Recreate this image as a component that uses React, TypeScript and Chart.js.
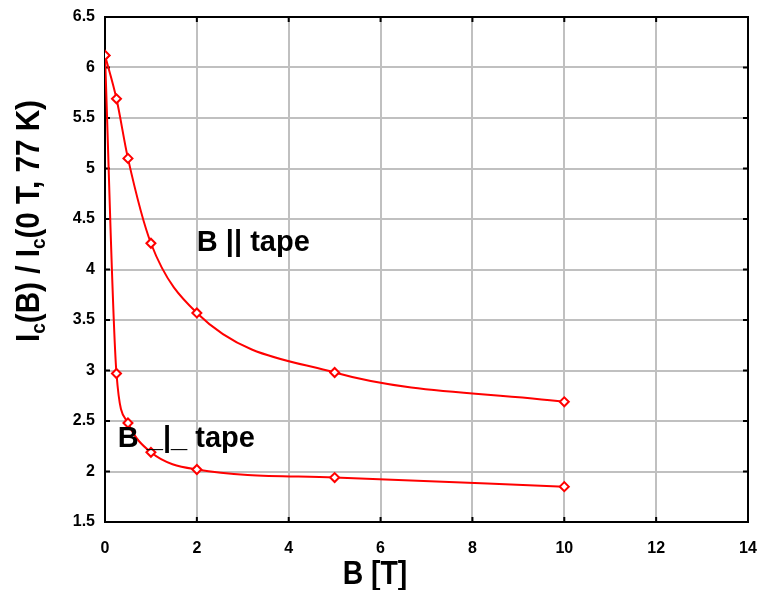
import React, { useEffect, useRef } from "react";
import { Chart, registerables } from "chart.js";

Chart.register(...registerables);

const bField = [0, 0.25, 0.5, 1, 2, 5, 10];
const parallelRatio = [6.12, 5.69, 5.1, 4.26, 3.57, 2.98, 2.69];
const perpRatio = [6.12, 2.97, 2.48, 2.19, 2.02, 1.94, 1.85];
const xTitle = "B [T]";
const parallelLabel = "B || tape";
const perpLabel = "B _|_ tape";

const FONT = "'Liberation Sans', Arial, sans-serif";

const framePlugin = {
  id: "frame",
  beforeDatasetsDraw(chart: any) {
    const { ctx, chartArea: a, scales } = chart;
    ctx.save();
    ctx.strokeStyle = "#000";
    ctx.lineWidth = 2;
    ctx.strokeRect(a.left, a.top, a.right - a.left, a.bottom - a.top);
    const tl = 5;
    ctx.beginPath();
    scales.x.ticks.forEach((t: any) => {
      const px = scales.x.getPixelForValue(t.value);
      ctx.moveTo(px, a.bottom);
      ctx.lineTo(px, a.bottom - tl);
      ctx.moveTo(px, a.top);
      ctx.lineTo(px, a.top + tl);
    });
    scales.y.ticks.forEach((t: any) => {
      const py = scales.y.getPixelForValue(t.value);
      ctx.moveTo(a.left, py);
      ctx.lineTo(a.left + tl, py);
      ctx.moveTo(a.right, py);
      ctx.lineTo(a.right - tl, py);
    });
    ctx.stroke();
    ctx.restore();
  },
  afterDraw(chart: any) {
    const { ctx, scales } = chart;
    ctx.save();
    ctx.fillStyle = "#000";
    // annotations
    ctx.font = `bold 29px ${FONT}`;
    ctx.textAlign = "left";
    ctx.textBaseline = "middle";
    ctx.fillText(parallelLabel, scales.x.getPixelForValue(2), scales.y.getPixelForValue(4.26));
    ctx.fillText(perpLabel, scales.x.getPixelForValue(0.28), scales.y.getPixelForValue(2.32));
    // x title (slightly condensed)
    ctx.save();
    ctx.translate(375, 584);
    ctx.scale(0.86, 1);
    ctx.textAlign = "center";
    ctx.textBaseline = "alphabetic";
    ctx.font = `bold 33px ${FONT}`;
    ctx.fillText(xTitle, 0, 0);
    ctx.restore();
    // y title with subscripts
    const parts: [string, boolean][] = [
      ["I", false], ["c", true], ["(B) / I", false], ["c", true], ["(0 T, 77 K)", false],
    ];
    const big = `bold 33px ${FONT}`;
    const small = `bold 21px ${FONT}`;
    let total = 0;
    parts.forEach(([s, sub]) => {
      ctx.font = sub ? small : big;
      total += ctx.measureText(s).width;
    });
    ctx.translate(39, 221);
    ctx.rotate(-Math.PI / 2);
    const sx = 242 / total;
    ctx.scale(sx, 1);
    let x = -total / 2;
    ctx.textAlign = "left";
    ctx.textBaseline = "alphabetic";
    parts.forEach(([s, sub]) => {
      ctx.font = sub ? small : big;
      ctx.fillText(s, x, sub ? 6 : 0);
      x += ctx.measureText(s).width;
    });
    ctx.restore();
  },
};

export default function App() {
  const ref = useRef<HTMLCanvasElement>(null);
  useEffect(() => {
    if (!ref.current) return;
    const mk = (vals: number[]) => bField.map((b, i) => ({ x: b, y: vals[i] }));
    const common = {
      borderColor: "#ff0000",
      backgroundColor: "#ffffff",
      borderWidth: 2,
      pointStyle: "rectRot" as const,
      pointRadius: 4.5,
      pointBorderWidth: 2,
      pointBorderColor: "#ff0000",
      pointBackgroundColor: "#ffffff",
      cubicInterpolationMode: "monotone" as const,
      showLine: true,
      fill: false,
    };
    const chart = new Chart(ref.current, {
      type: "scatter",
      data: {
        datasets: [
          { ...common, label: parallelLabel, data: mk(parallelRatio) },
          { ...common, label: perpLabel, data: mk(perpRatio) },
        ],
      },
      options: {
        animation: false,
        responsive: false,
        layout: { padding: { top: 17, right: 12, left: 0, bottom: 0 } },
        plugins: { legend: { display: false }, tooltip: { enabled: false } },
        scales: {
          x: {
            type: "linear",
            min: 0,
            max: 14,
            ticks: {
              stepSize: 2,
              padding: 17,
              color: "#000",
              font: { family: FONT, size: 16, weight: "bold" },
              maxRotation: 0,
            },
            grid: { color: "#c0c0c0", lineWidth: 2, drawTicks: false },
            border: { display: false },
            afterFit: (s: any) => {
              s.height = 68;
              s.paddingLeft = 0;
              s.paddingRight = 0;
            },
          },
          y: {
            type: "linear",
            min: 1.5,
            max: 6.5,
            ticks: {
              stepSize: 0.5,
              padding: 10,
              color: "#000",
              font: { family: FONT, size: 16, weight: "bold" },
              callback: (v: any) => String(v),
            },
            grid: { color: "#c0c0c0", lineWidth: 2, drawTicks: false },
            border: { display: false },
            afterFit: (s: any) => {
              s.width = 105;
              s.paddingTop = 0;
              s.paddingBottom = 0;
            },
          },
        },
      },
      plugins: [framePlugin],
    });
    return () => chart.destroy();
  }, []);
  return (
    <div style={{ position: "fixed", left: 0, top: 0, width: 760, height: 590, background: "#fff" }}>
      <canvas ref={ref} width={760} height={590} style={{ display: "block" }} />
    </div>
  );
}
